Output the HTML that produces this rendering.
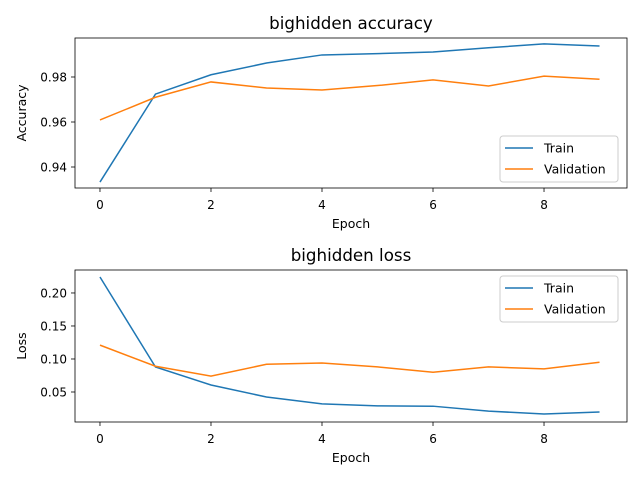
<!DOCTYPE html>
<html><head><meta charset="utf-8"><style>
body{margin:0;background:#fff}
svg{font-family:"DejaVu Sans","Liberation Sans",sans-serif;display:block}
</style></head><body>
<svg id="c" width="640" height="480"></svg>
<script>
const epochs=[0,1,2,3,4,5,6,7,8,9];
const trainAcc=[0.9333,0.9724,0.981,0.9862,0.9898,0.9904,0.9911,0.993,0.9947,0.9938];
const valAcc=[0.9609,0.971,0.9778,0.9751,0.9742,0.9762,0.9787,0.976,0.9804,0.979];
const trainLoss=[0.2242,0.0879,0.0606,0.0424,0.032,0.029,0.0285,0.021,0.0167,0.0197];
const valLoss=[0.121,0.089,0.074,0.092,0.094,0.088,0.080,0.088,0.085,0.095];
const xTicks=[0,2,4,6,8];
const accTicks=[0.94,0.96,0.98];
const lossTicks=[0.05,0.10,0.15,0.20];
const svg=document.getElementById('c');
const NS='http://www.w3.org/2000/svg';
function mk(t,a,p){const e=document.createElementNS(NS,t);for(const k in a)e.setAttribute(k,a[k]);(p||svg).appendChild(e);return e;}
function panel(o){
  const g=mk('g',{});
  
  
  const sx=v=>o.x0+(v-o.xmin)/(o.xmax-o.xmin)*(o.x1-o.x0);
  const sy=v=>o.y1-(v-o.ymin)/(o.ymax-o.ymin)*(o.y1-o.y0);
  xTicks.forEach(t=>{const x=sx(t);mk('line',{x1:x,x2:x,y1:o.y1,y2:o.y1+4,stroke:'#000','stroke-width':0.8},g);
    const tx=mk('text',{x:x,y:o.y1+21,'font-size':12,'text-anchor':'middle'},g);tx.textContent=t;
    });
  o.yt.forEach(t=>{const y=sy(t);mk('line',{x1:o.x0-4,x2:o.x0,y1:y,y2:y,stroke:'#000','stroke-width':0.8},g);
    const tx=mk('text',{x:o.x0-8,y:y+4.5,'font-size':12,'text-anchor':'end'},g);tx.textContent=t.toFixed(2);
    });
  [[o.train,'#1f77b4','train-line'],[o.val,'#ff7f0e','validation-line']].forEach(([d,c,n])=>{
    const p=mk('polyline',{points:d.map((v,i)=>sx(epochs[i])+','+sy(v)).join(' '),fill:'none',stroke:c,'stroke-width':1.5},g);
    });
  mk('rect',{x:o.x0,y:o.y0,width:o.x1-o.x0,height:o.y1-o.y0,fill:'none',stroke:'#000','stroke-width':0.8},g);
  const ti=mk('text',{x:(o.x0+o.x1)/2,y:o.y0-9,'font-size':16.7,'text-anchor':'middle'},g);ti.textContent=o.title;
  
  const xl=mk('text',{x:(o.x0+o.x1)/2,y:o.y1+40,'font-size':12.5,'text-anchor':'middle'},g);xl.textContent='Epoch';
  
  const cy=(o.y0+o.y1)/2;
  const yl=mk('text',{x:26,y:cy,'font-size':12.5,'text-anchor':'middle',transform:`rotate(-90 26 ${cy})`},g);yl.textContent=o.ylabel;
  
  const lg=mk('g',{},g);
  mk('rect',{x:500,y:o.ly,width:118,height:46,rx:3,fill:'#fff','fill-opacity':0.8,stroke:'#ccc'},lg);
  [['Train','#1f77b4'],['Validation','#ff7f0e']].forEach(([l,c],i)=>{
    const y=o.ly+12+i*21;
    mk('line',{x1:505,x2:533,y1:y,y2:y,stroke:c,'stroke-width':1.5},lg);
    const t=mk('text',{x:544,y:y+4.5,'font-size':12.5},lg);t.textContent=l;
    });
}
panel({name:'accuracy-chart',title:'bighidden accuracy',ylabel:'Accuracy',x0:75,x1:627,y0:38,y1:188,xmin:-0.45,xmax:9.495,ymin:0.93067,ymax:0.99733,yt:accTicks,train:trainAcc,val:valAcc,ly:136});
panel({name:'loss-chart',title:'bighidden loss',ylabel:'Loss',x0:75,x1:627,y0:270,y1:422,xmin:-0.45,xmax:9.495,ymin:0.00455,ymax:0.2348,yt:lossTicks,train:trainLoss,val:valLoss,ly:276});
</script>
</body></html>
